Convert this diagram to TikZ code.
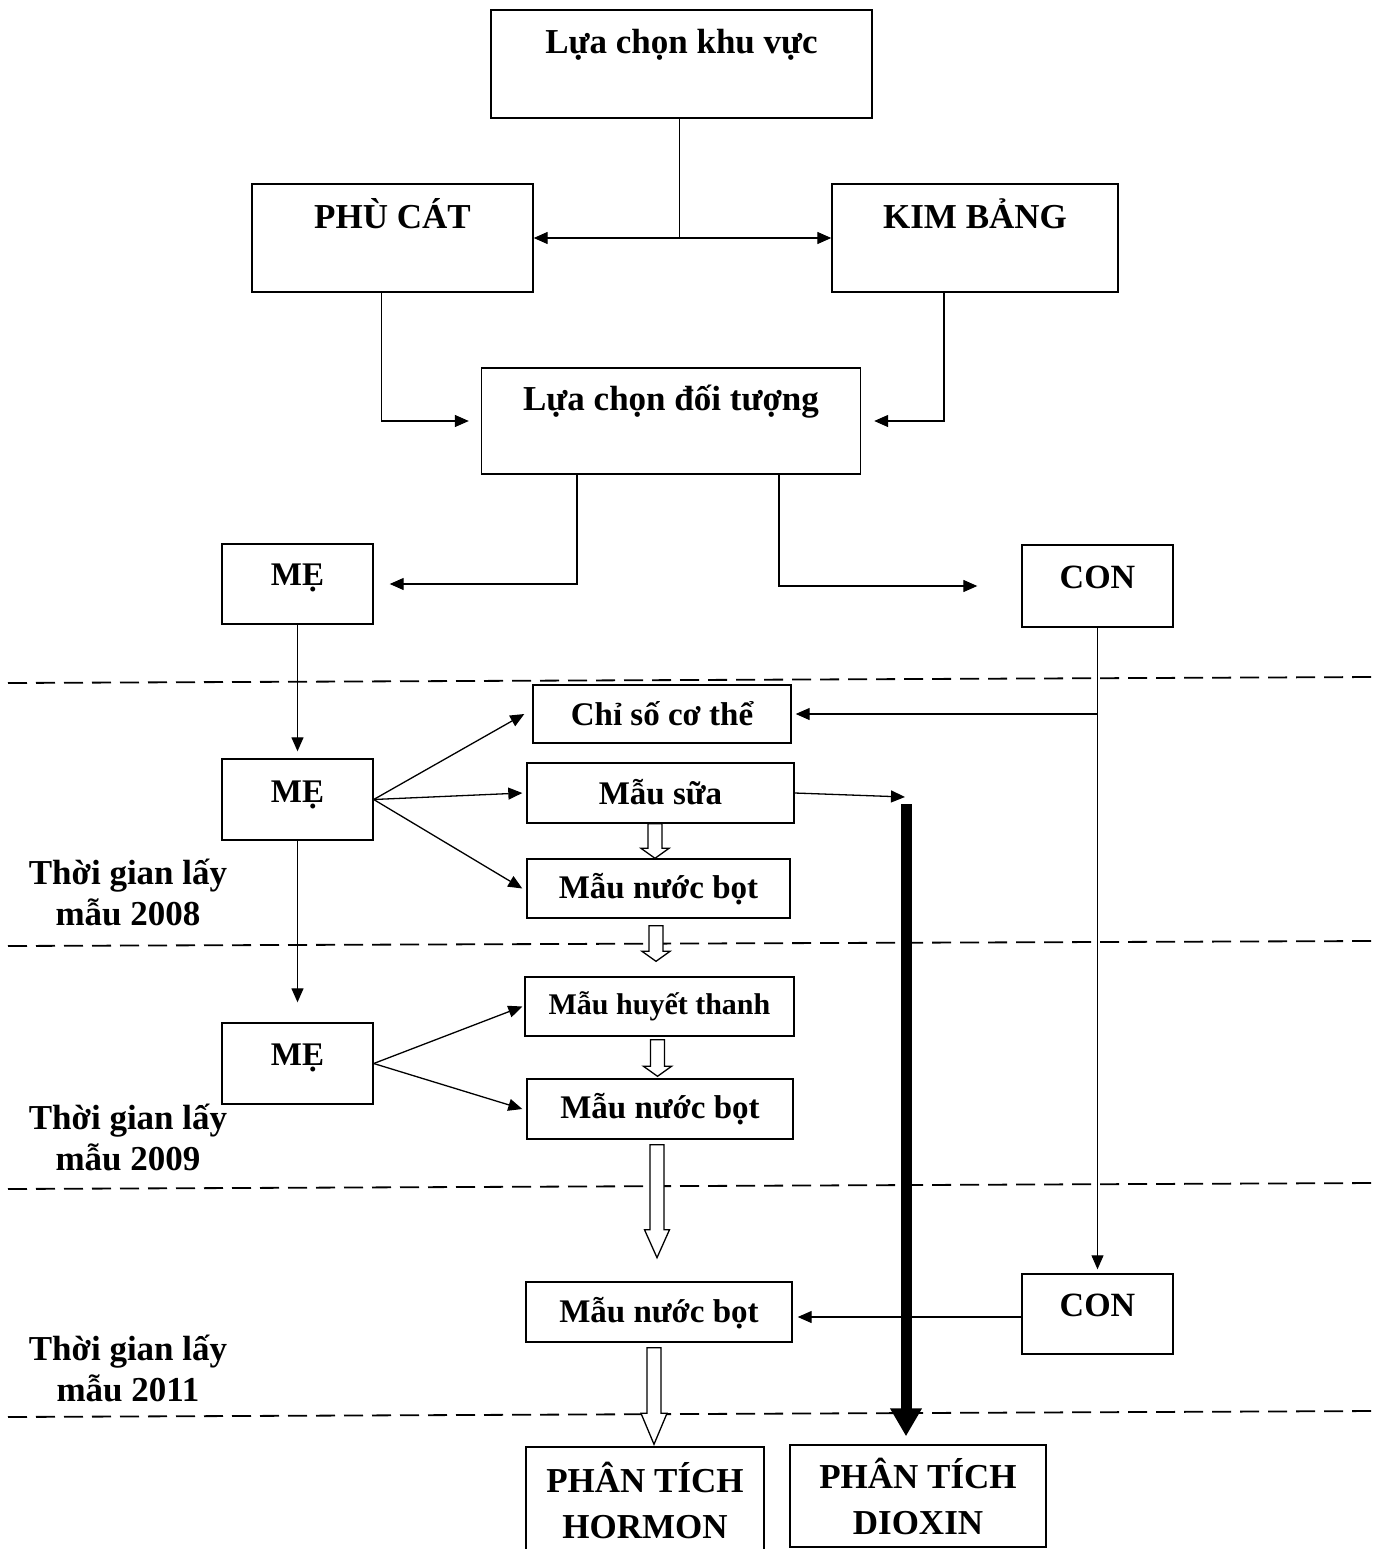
\documentclass[tikz,border=0pt]{standalone}
\usepackage{fontspec}
\setmainfont{Liberation Serif}
\usetikzlibrary{arrows.meta,positioning,calc}

\tikzset{
  box/.style={draw,line width=1.4pt,anchor=base,inner sep=0pt,font=\bfseries\fontsize{33}{38}\selectfont},
  bigbox/.style={box,font=\bfseries\fontsize{35}{40}\selectfont},
  endbox/.style={draw,line width=1.4pt,inner sep=0pt,align=center,font=\bfseries\fontsize{35}{46}\selectfont},
  side/.style={align=center,font=\bfseries\fontsize{35}{41}\selectfont},
  arr/.style={line width=1.3pt,-{Triangle[length=14pt,width=12pt]}},
  dbl/.style={line width=1.3pt,{Triangle[length=14pt,width=12pt]}-{Triangle[length=14pt,width=12pt]}},
  fatarr/.style={line width=11pt,-{Triangle[length=28pt,width=30pt]}},
  hollow/.style={line width=1.3pt,fill=white,line join=miter},
  sep/.style={line width=1.8pt,dash pattern=on 19pt off 9pt},
}
% hollow block arrow: start, tip, head length, head half width
\newcommand{\hollowarrow}[4]{%
  \draw[hollow] let \p1=#1, \p2=#2 in
    (\x1-7pt,\y1) -- (\x1-7pt,\y2+#3) -- (\x1-#4,\y2+#3) -- (\x1,\y2)
    -- (\x1+#4,\y2+#3) -- (\x1+7pt,\y2+#3) -- (\x1+7pt,\y1) -- cycle;}

\begin{document}
\begin{tikzpicture}[x=1pt,y=-1pt]
\useasboundingbox (0,0) rectangle (1385,1549);

% boxes
\node[bigbox,minimum width=381,text height=44pt,text depth=64pt] (khuvuc) at (681.5,54) {Lựa chọn khu vực};
\node[bigbox,minimum width=281,text height=44pt,text depth=64pt] (phucat) at (392.5,228) {PHÙ CÁT};
\node[bigbox,minimum width=286,text height=44pt,text depth=64pt] (kimbang) at (975,228) {KIM BẢNG};
\node[bigbox,minimum width=379,text height=42pt,text depth=64pt] (doituong) at (671,410) {Lựa chọn đối tượng};
\node[box,minimum width=151,text height=41pt,text depth=39pt] (me1) at (297.5,585) {MẸ};
\node[box,minimum width=151,text height=43pt,text depth=39pt,font=\bfseries\fontsize{34}{38}\selectfont] (con1) at (1097.5,588) {CON};
\node[box,minimum width=151,text height=43pt,text depth=38pt] (me2) at (297.5,802) {MẸ};
\node[box,minimum width=258,text height=40pt,text depth=18pt] (chiso) at (662,725) {Chỉ số cơ thể};
\node[box,minimum width=267,text height=41pt,text depth=19pt] (sua) at (660.5,804) {Mẫu sữa};
\node[box,minimum width=263,text height=39pt,text depth=20pt] (nuoc1) at (658.5,898) {Mẫu nước bọt};
\node[box,minimum width=151,text height=42pt,text depth=39pt] (me3) at (297.5,1065) {MẸ};
\node[box,minimum width=269,text height=37pt,text depth=22pt,font=\bfseries\fontsize{30}{36}\selectfont] (huyet) at (659.5,1014) {Mẫu huyết thanh};
\node[box,minimum width=266,text height=39pt,text depth=21pt] (nuoc2) at (660,1118) {Mẫu nước bọt};
\node[box,minimum width=151,text height=42pt,text depth=38pt,font=\bfseries\fontsize{34}{38}\selectfont] (con2) at (1097.5,1316) {CON};
\node[box,minimum width=266,text height=40pt,text depth=20pt] (nuoc3) at (659,1322) {Mẫu nước bọt};
\node[endbox,minimum width=238,minimum height=106] (hormon) at (645,1500) {PHÂN TÍCH\\HORMON};
\node[endbox,minimum width=256,minimum height=102] (dioxin) at (918,1496) {PHÂN TÍCH\\DIOXIN};

% time labels
\node[side] (t2008) at (128,892) {Thời gian lấy\\mẫu 2008};
\node[side] (t2009) at (128,1137) {Thời gian lấy\\mẫu 2009};
\node[side] (t2011) at (128,1368) {Thời gian lấy\\mẫu 2011};

% separators
\draw[sep] (8,683) -- (1375,677);
\draw[sep] (8,946) -- (1375,941);
\draw[sep] (8,1189) -- (1375,1183);
\draw[sep] (8,1417) -- (1375,1411);

% top part
\draw[line width=1.3pt] ([xshift=-2pt]khuvuc.south) -- ([xshift=-2pt]khuvuc.south |- phucat.east);
\draw[dbl] (phucat.east) -- (kimbang.west);
\draw[arr] ([xshift=-11pt]phucat.south) |- ([xshift=-12pt]doituong.west);
\draw[arr] ([xshift=-31pt]kimbang.south) |- ([xshift=13pt]doituong.east);
\draw[arr] ([xshift=-94pt]doituong.south) |- ([xshift=16pt]me1.east);
\draw[arr] ([xshift=108pt]doituong.south) |- ([xshift=-44pt]con1.west);

% mother
\draw[arr,shorten >=7pt] (me1) -- (me2);
\draw[arr,shorten >=20pt] (me2) -- (me3);
\draw[arr] (me2.east) -- ([xshift=-8pt]chiso.west);
\draw[arr] (me2.east) -- ([xshift=-4pt]sua.west);
\draw[arr] (me2.east) -- ([xshift=-4pt]nuoc1.west);
\draw[arr] (me3.east) -- ([xshift=-2pt]huyet.west);
\draw[arr] (me3.east) -- ([xshift=-4pt]nuoc2.west);

% child
\draw[arr,line width=1pt,shorten >=4pt] (con1) -- (con2);
\draw[arr] (con1.south |- chiso.east) -- ([xshift=4pt]chiso.east);
\draw[arr,shorten >=5pt] ([yshift=-3pt]con2.west) -- ([yshift=-3pt]con2.west -| nuoc3.east);

% sample flow
\hollowarrow{($(sua.south)+(-5.5,0)$)}{(nuoc1.north)}{10pt}{14pt}
\hollowarrow{($(nuoc1.south)+(-2.5,7)$)}{($(huyet.north)+(0,-15)$)}{10pt}{14pt}
\hollowarrow{($(huyet.south)+(-2,3)$)}{($(nuoc2.north)+(0,-2)$)}{10pt}{14pt}
\hollowarrow{($(nuoc2.south)+(-3,5)$)}{($(nuoc2.south)+(-3,118)$)}{28pt}{12.5pt}
\hollowarrow{($(nuoc3.south)+(-5,5)$)}{($(hormon.north)+(0,-2)$)}{31pt}{13pt}

% dioxin line
\coordinate (dtop) at (906,804);
\draw[arr] (sua.east) -- ($(dtop)+(-1,-7)$);
\draw[fatarr,shorten >=8pt] (dtop) -- (dtop |- dioxin.north);
\end{tikzpicture}
\end{document}
